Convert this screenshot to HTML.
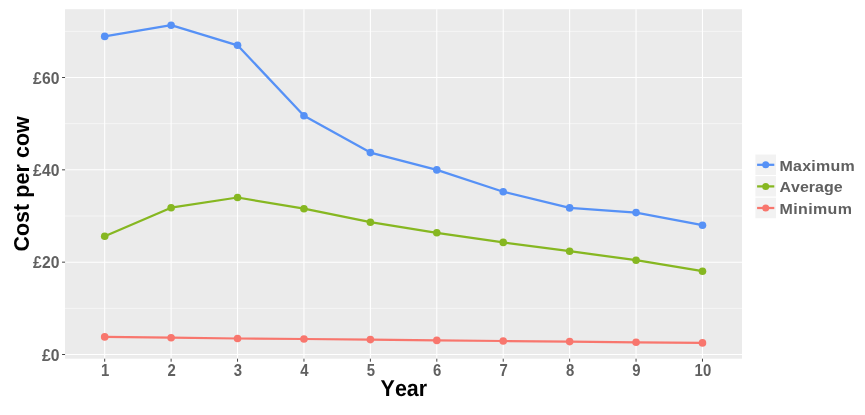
<!DOCTYPE html>
<html><head><meta charset="utf-8"><title>Cost per cow</title>
<style>
html,body{margin:0;padding:0;background:#fff;}
svg{display:block;}
text{font-family:"Liberation Sans",sans-serif;font-weight:bold;font-kerning:none;}
.tk{font-size:15.7px;letter-spacing:0.1px;fill:#606060;}
.lg{font-size:16px;fill:#606060;}
.ttl{font-size:21.4px;fill:#000;}
</style></head><body>
<svg width="865" height="415" viewBox="0 0 865 415">
<rect width="865" height="415" fill="#fff"/>
<rect x="65.05" y="9.2" width="676.95" height="349.5" fill="#EBEBEB"/>
<line x1="65.05" x2="742" y1="308.33" y2="308.33" stroke="#fff" stroke-width="0.55"/>
<line x1="65.05" x2="742" y1="216.00" y2="216.00" stroke="#fff" stroke-width="0.55"/>
<line x1="65.05" x2="742" y1="123.67" y2="123.67" stroke="#fff" stroke-width="0.55"/>
<line x1="65.05" x2="742" y1="31.33" y2="31.33" stroke="#fff" stroke-width="0.55"/>
<line x1="65.05" x2="742" y1="354.50" y2="354.50" stroke="#fff" stroke-width="1.07"/>
<line x1="65.05" x2="742" y1="262.17" y2="262.17" stroke="#fff" stroke-width="1.07"/>
<line x1="65.05" x2="742" y1="169.83" y2="169.83" stroke="#fff" stroke-width="1.07"/>
<line x1="65.05" x2="742" y1="77.50" y2="77.50" stroke="#fff" stroke-width="1.07"/>
<line x1="104.70" x2="104.70" y1="9.2" y2="358.7" stroke="#fff" stroke-width="1.07"/>
<line x1="171.12" x2="171.12" y1="9.2" y2="358.7" stroke="#fff" stroke-width="1.07"/>
<line x1="237.54" x2="237.54" y1="9.2" y2="358.7" stroke="#fff" stroke-width="1.07"/>
<line x1="303.96" x2="303.96" y1="9.2" y2="358.7" stroke="#fff" stroke-width="1.07"/>
<line x1="370.38" x2="370.38" y1="9.2" y2="358.7" stroke="#fff" stroke-width="1.07"/>
<line x1="436.80" x2="436.80" y1="9.2" y2="358.7" stroke="#fff" stroke-width="1.07"/>
<line x1="503.22" x2="503.22" y1="9.2" y2="358.7" stroke="#fff" stroke-width="1.07"/>
<line x1="569.64" x2="569.64" y1="9.2" y2="358.7" stroke="#fff" stroke-width="1.07"/>
<line x1="636.06" x2="636.06" y1="9.2" y2="358.7" stroke="#fff" stroke-width="1.07"/>
<line x1="702.48" x2="702.48" y1="9.2" y2="358.7" stroke="#fff" stroke-width="1.07"/>
<line x1="62.05" x2="65.05" y1="354.50" y2="354.50" stroke="#3a3a3a" stroke-width="0.95"/>
<text class="tk" x="59.6" y="360.80" text-anchor="end">£0</text>
<line x1="62.05" x2="65.05" y1="262.17" y2="262.17" stroke="#3a3a3a" stroke-width="0.95"/>
<text class="tk" x="59.6" y="268.47" text-anchor="end">£20</text>
<line x1="62.05" x2="65.05" y1="169.83" y2="169.83" stroke="#3a3a3a" stroke-width="0.95"/>
<text class="tk" x="59.6" y="176.13" text-anchor="end">£40</text>
<line x1="62.05" x2="65.05" y1="77.50" y2="77.50" stroke="#3a3a3a" stroke-width="0.95"/>
<text class="tk" x="59.6" y="83.80" text-anchor="end">£60</text>
<line x1="104.70" x2="104.70" y1="358.7" y2="361.7" stroke="#3a3a3a" stroke-width="0.95"/>
<text class="tk" transform="translate(105.15,376.3) scale(0.95,1)" text-anchor="middle">1</text>
<line x1="171.12" x2="171.12" y1="358.7" y2="361.7" stroke="#3a3a3a" stroke-width="0.95"/>
<text class="tk" transform="translate(171.57,376.3) scale(0.95,1)" text-anchor="middle">2</text>
<line x1="237.54" x2="237.54" y1="358.7" y2="361.7" stroke="#3a3a3a" stroke-width="0.95"/>
<text class="tk" transform="translate(237.99,376.3) scale(0.95,1)" text-anchor="middle">3</text>
<line x1="303.96" x2="303.96" y1="358.7" y2="361.7" stroke="#3a3a3a" stroke-width="0.95"/>
<text class="tk" transform="translate(304.41,376.3) scale(0.95,1)" text-anchor="middle">4</text>
<line x1="370.38" x2="370.38" y1="358.7" y2="361.7" stroke="#3a3a3a" stroke-width="0.95"/>
<text class="tk" transform="translate(370.83,376.3) scale(0.95,1)" text-anchor="middle">5</text>
<line x1="436.80" x2="436.80" y1="358.7" y2="361.7" stroke="#3a3a3a" stroke-width="0.95"/>
<text class="tk" transform="translate(437.25,376.3) scale(0.95,1)" text-anchor="middle">6</text>
<line x1="503.22" x2="503.22" y1="358.7" y2="361.7" stroke="#3a3a3a" stroke-width="0.95"/>
<text class="tk" transform="translate(503.67,376.3) scale(0.95,1)" text-anchor="middle">7</text>
<line x1="569.64" x2="569.64" y1="358.7" y2="361.7" stroke="#3a3a3a" stroke-width="0.95"/>
<text class="tk" transform="translate(570.09,376.3) scale(0.95,1)" text-anchor="middle">8</text>
<line x1="636.06" x2="636.06" y1="358.7" y2="361.7" stroke="#3a3a3a" stroke-width="0.95"/>
<text class="tk" transform="translate(636.51,376.3) scale(0.95,1)" text-anchor="middle">9</text>
<line x1="702.48" x2="702.48" y1="358.7" y2="361.7" stroke="#3a3a3a" stroke-width="0.95"/>
<text class="tk" transform="translate(702.93,376.3) scale(0.95,1)" text-anchor="middle">10</text>
<polyline points="104.70,336.90 171.12,337.70 237.54,338.50 303.96,339.00 370.38,339.60 436.80,340.40 503.22,341.00 569.64,341.60 636.06,342.30 702.48,342.90" fill="none" stroke="#F8766D" stroke-width="2.25" stroke-linejoin="round"/>
<circle cx="104.70" cy="336.90" r="3.8" fill="#F8766D"/>
<circle cx="171.12" cy="337.70" r="3.8" fill="#F8766D"/>
<circle cx="237.54" cy="338.50" r="3.8" fill="#F8766D"/>
<circle cx="303.96" cy="339.00" r="3.8" fill="#F8766D"/>
<circle cx="370.38" cy="339.60" r="3.8" fill="#F8766D"/>
<circle cx="436.80" cy="340.40" r="3.8" fill="#F8766D"/>
<circle cx="503.22" cy="341.00" r="3.8" fill="#F8766D"/>
<circle cx="569.64" cy="341.60" r="3.8" fill="#F8766D"/>
<circle cx="636.06" cy="342.30" r="3.8" fill="#F8766D"/>
<circle cx="702.48" cy="342.90" r="3.8" fill="#F8766D"/>
<polyline points="104.70,236.20 171.12,207.70 237.54,197.50 303.96,208.70 370.38,222.20 436.80,232.80 503.22,242.40 569.64,251.20 636.06,260.20 702.48,271.20" fill="none" stroke="#86B721" stroke-width="2.25" stroke-linejoin="round"/>
<circle cx="104.70" cy="236.20" r="3.8" fill="#86B721"/>
<circle cx="171.12" cy="207.70" r="3.8" fill="#86B721"/>
<circle cx="237.54" cy="197.50" r="3.8" fill="#86B721"/>
<circle cx="303.96" cy="208.70" r="3.8" fill="#86B721"/>
<circle cx="370.38" cy="222.20" r="3.8" fill="#86B721"/>
<circle cx="436.80" cy="232.80" r="3.8" fill="#86B721"/>
<circle cx="503.22" cy="242.40" r="3.8" fill="#86B721"/>
<circle cx="569.64" cy="251.20" r="3.8" fill="#86B721"/>
<circle cx="636.06" cy="260.20" r="3.8" fill="#86B721"/>
<circle cx="702.48" cy="271.20" r="3.8" fill="#86B721"/>
<polyline points="104.70,36.40 171.12,25.20 237.54,45.30 303.96,115.70 370.38,152.60 436.80,169.90 503.22,191.70 569.64,207.90 636.06,212.60 702.48,225.20" fill="none" stroke="#5691F6" stroke-width="2.25" stroke-linejoin="round"/>
<circle cx="104.70" cy="36.40" r="3.8" fill="#5691F6"/>
<circle cx="171.12" cy="25.20" r="3.8" fill="#5691F6"/>
<circle cx="237.54" cy="45.30" r="3.8" fill="#5691F6"/>
<circle cx="303.96" cy="115.70" r="3.8" fill="#5691F6"/>
<circle cx="370.38" cy="152.60" r="3.8" fill="#5691F6"/>
<circle cx="436.80" cy="169.90" r="3.8" fill="#5691F6"/>
<circle cx="503.22" cy="191.70" r="3.8" fill="#5691F6"/>
<circle cx="569.64" cy="207.90" r="3.8" fill="#5691F6"/>
<circle cx="636.06" cy="212.60" r="3.8" fill="#5691F6"/>
<circle cx="702.48" cy="225.20" r="3.8" fill="#5691F6"/>
<text class="ttl" transform="translate(403.8,395.9) rotate(0.05) scale(1,1.07)" text-anchor="middle">Year</text>
<text class="ttl" transform="translate(28.8,183.9) rotate(-90) scale(1,1.07)" letter-spacing="0.09" text-anchor="middle">Cost per cow</text>
<rect x="754.9" y="154.00" width="21.6" height="21.6" fill="#F2F2F2" stroke="#fff" stroke-width="1"/>
<line x1="757.10" x2="774.30" y1="164.80" y2="164.80" stroke="#5691F6" stroke-width="2.25"/>
<circle cx="765.70" cy="164.80" r="3.5" fill="#5691F6"/>
<text class="lg" transform="translate(779.5,170.9) scale(1,0.94)" letter-spacing="0.23">Maximum</text>
<rect x="754.9" y="175.60" width="21.6" height="21.6" fill="#F2F2F2" stroke="#fff" stroke-width="1"/>
<line x1="757.10" x2="774.30" y1="186.40" y2="186.40" stroke="#86B721" stroke-width="2.25"/>
<circle cx="765.70" cy="186.40" r="3.5" fill="#86B721"/>
<text class="lg" transform="translate(779.5,192.0) scale(1,0.94)" letter-spacing="0">Average</text>
<rect x="754.9" y="197.20" width="21.6" height="21.6" fill="#F2F2F2" stroke="#fff" stroke-width="1"/>
<line x1="757.10" x2="774.30" y1="208.00" y2="208.00" stroke="#F8766D" stroke-width="2.25"/>
<circle cx="765.70" cy="208.00" r="3.5" fill="#F8766D"/>
<text class="lg" transform="translate(779.5,213.5) scale(1,0.94)" letter-spacing="0.37">Minimum</text>
</svg>
</body></html>
